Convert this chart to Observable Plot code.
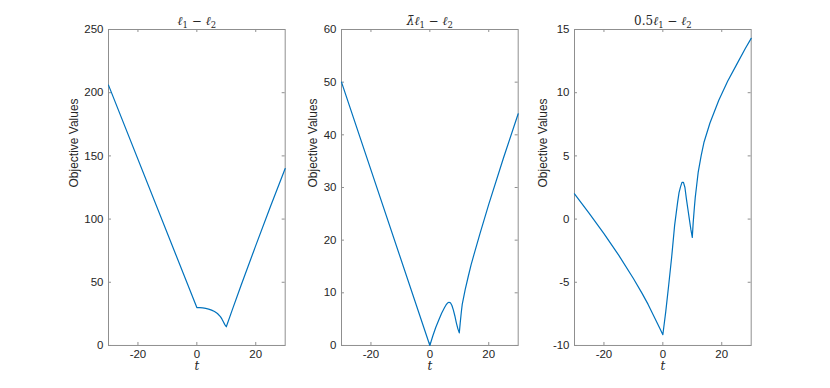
<!DOCTYPE html>
<html><head><meta charset="utf-8">
<script src="https://cdn.jsdelivr.net/npm/d3@7"></script>
<script src="https://cdn.jsdelivr.net/npm/@observablehq/plot@0.6"></script>
<style>
html,body{margin:0;padding:0;background:#fff;}
#chart{position:relative;width:830px;height:388px;overflow:hidden;background:#fff;}
#chart > div{position:absolute;top:0;}
</style></head><body><div id="chart"></div>
<script>
// ---- data ----
const titles = ["ℓ1 − ℓ2", "λ̄ℓ1 − ℓ2", "0.5ℓ1 − ℓ2"];
// title pieces: [text, kind] kind: "" normal, "i" italic, "s" subscript
const titleParts = [
  [["ℓ", "i"], ["1", "s"], [" − ", ""], ["ℓ", "i"], ["2", "s"]],
  [["λ̄", "i"], ["ℓ", "i"], ["1", "s"], [" − ", ""], ["ℓ", "i"], ["2", "s"]],
  [["0.5", ""], ["ℓ", "i"], ["1", "s"], [" − ", ""], ["ℓ", "i"], ["2", "s"]]
];
const yLabel = "Objective Values";
const xLabel = "t";
const xTicks = [-20, 0, 20];
const xDomain = [-30, 30];

const t1 = [-30, 0, 1, 2, 3, 4, 5, 6, 7, 8, 8.5, 9, 9.5, 10, 12, 15, 20, 25, 30];
const v1 = [206, 30, 29.9, 29.7, 29.3, 28.8, 28.0, 26.9, 25.3, 22.8, 21.0, 18.8, 16.5, 14.8, 28, 47.5, 79, 110, 140];
const yTicks1 = [0, 50, 100, 150, 200, 250];

const t2 = [-30, 0, 1, 2, 3, 4, 5, 5.5, 6, 6.5, 7, 7.5, 8, 8.5, 9, 9.5, 10, 10.3, 10.7, 11, 12, 13, 14, 15, 17, 20, 25, 30];
const v2 = [50, 0, 1.8, 3.4, 4.8, 6.1, 7.2, 7.7, 8.05, 8.2, 8.1, 7.6, 6.7, 5.6, 4.3, 3.2, 2.4, 4.2, 6.4, 7.8, 10.6, 13, 15.3, 17.3, 21.2, 26.8, 35.6, 44];
const yTicks2 = [0, 10, 20, 30, 40, 50, 60];

const t3 = [-30, -25, -20, -15, -10, -7, -5, -3, -1, 0, 1, 2, 3, 4, 5, 5.5, 6, 6.5, 7, 7.5, 8, 8.5, 9, 9.5, 10, 10.3, 10.7, 11, 11.5, 12, 13, 14, 16, 19, 22, 25, 28, 30];
const v3 = [2.0, 0.45, -1.15, -2.85, -4.7, -5.9, -6.75, -7.7, -8.65, -9.15, -7.3, -5.2, -3.0, -0.5, 1.3, 2.1, 2.55, 2.9, 2.9, 2.5, 1.6, 0.8, 0.0, -0.8, -1.45, -0.3, 0.9, 1.7, 2.7, 3.7, 5.0, 6.1, 7.6, 9.4, 10.9, 12.2, 13.5, 14.3];
const yTicks3 = [-10, -5, 0, 5, 10, 15];

// ---- layout ----
const panels = [
  {t: t1, v: v1, ticks: yTicks1, domain: [0, 250], title: titles[0], parts: titleParts[0], left: 108.3, labelDx: -34},
  {t: t2, v: v2, ticks: yTicks2, domain: [0, 60], title: titles[1], parts: titleParts[1], left: 341.3, labelDx: -28},
  {t: t3, v: v3, ticks: yTicks3, domain: [-10, 15], title: titles[2], parts: titleParts[2], left: 574.3, labelDx: -31}
];
const mL = 50, mR = 10, mT = 29, mB = 43, plotW = 176.7, H = 388;
const plotH = H - mT - mB;
const axisColor = "#8f8f8f";
const serif = "'DejaVu Serif', 'Liberation Serif', serif";
const fmt = d => String(d);

const chart = document.getElementById("chart");
for (const p of panels) {
  const data = p.t.map((t, i) => ({t, v: p.v[i]}));
  const svg = Plot.plot({
    width: mL + plotW + mR,
    height: H,
    marginLeft: mL, marginRight: mR, marginTop: mT, marginBottom: mB,
    x: {domain: xDomain},
    y: {domain: p.domain},
    style: {fontFamily: "'Liberation Sans', Arial, Helvetica, sans-serif", fontSize: "11.5px", color: "#262626", background: "transparent", overflow: "visible"},
    marks: [
      Plot.axisX({ticks: xTicks, tickSize: 0, tickPadding: 4, tickFormat: fmt, label: null}),
      Plot.axisY({ticks: p.ticks, tickSize: 0, tickPadding: 5, tickFormat: fmt, label: null}),
      Plot.tickY(p.ticks, {y: d => d, insetRight: plotW - 3, stroke: axisColor, strokeWidth: 1}),
      Plot.tickY(p.ticks, {y: d => d, insetLeft: plotW - 3, stroke: axisColor, strokeWidth: 1}),
      Plot.tickX(xTicks, {x: d => d, insetBottom: plotH - 3, stroke: axisColor, strokeWidth: 1}),
      Plot.tickX(xTicks, {x: d => d, insetTop: plotH - 3, stroke: axisColor, strokeWidth: 1}),
      Plot.frame({stroke: axisColor, strokeWidth: 1}),
      Plot.line(data, {x: "t", y: "v", stroke: "#0072BD", strokeWidth: 1.2}),
      Plot.text([p.title], {text: d => d, frameAnchor: "top", dy: -13, fontFamily: serif, fontSize: 12, fill: "#262626"}),
      Plot.text([yLabel], {text: d => d, frameAnchor: "left", rotate: -90, dx: p.labelDx, fontSize: 12, fill: "#262626"}),
      Plot.text([xLabel], {text: d => d, frameAnchor: "bottom", dy: 25, fontStyle: "italic", fontFamily: serif, fontSize: 12, fill: "#262626"})
    ]
  });
  // rebuild title with italic symbols and subscripts
  d3.select(svg).selectAll("text").filter(function () { return this.textContent === p.title; })
    .each(function () {
      const el = d3.select(this);
      el.text(null);
      let shifted = false;
      for (const [s, kind] of p.parts) {
        const ts = el.append("tspan").text(s);
        if (kind === "i") ts.attr("font-style", "italic");
        if (kind === "s") { ts.attr("font-size", 8.5).attr("dy", shifted ? 0 : 3); shifted = true; }
        else if (shifted) { ts.attr("dy", -3); shifted = false; }
      }
    });
  const wrap = document.createElement("div");
  wrap.style.left = (p.left - mL) + "px";
  wrap.appendChild(svg);
  chart.appendChild(wrap);
}
</script>
</body></html>
